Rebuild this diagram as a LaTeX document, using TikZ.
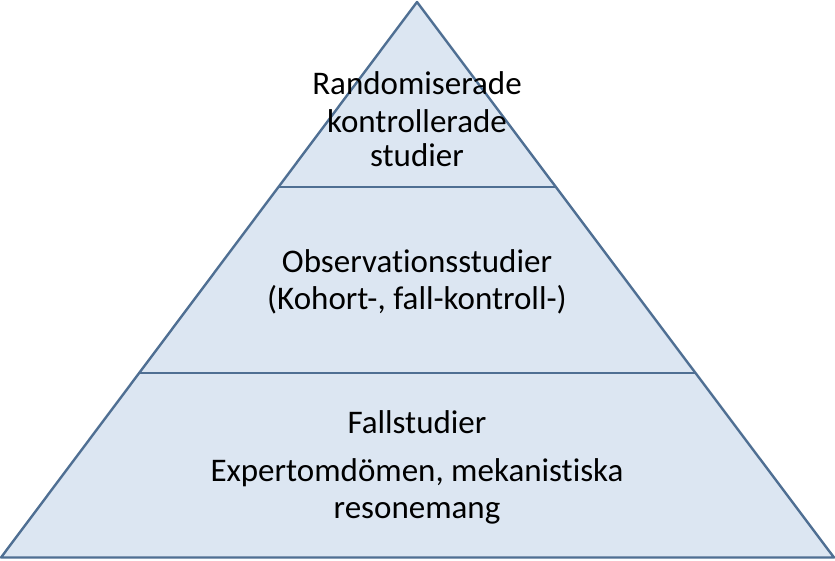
\documentclass[tikz,border=0pt]{standalone}
\usepackage{fontspec}
\setmainfont[Ligatures=NoCommon]{Carlito}
\definecolor{pyrfill}{HTML}{DCE6F2}
\definecolor{pyrline}{HTML}{4F6F93}
\begin{document}
\begin{tikzpicture}[x=1pt,y=-1pt,
  lbl/.style={font=\fontsize{33}{37}\selectfont, align=center, inner sep=0pt, text=black},
  edge/.style={draw=pyrline, line width=2.4pt, line join=round}]
\useasboundingbox (0,0) rectangle (835,560);
\coordinate (apex) at (417,2);
\coordinate (bl) at (1,557.5);
\coordinate (br) at (834,557.5);
\coordinate (l1) at (278.5,187);
\coordinate (r1) at (556,187);
\coordinate (l2) at (139.5,373);
\coordinate (r2) at (695,373);
\fill[pyrfill] (apex) -- (bl) -- (br) -- cycle;
\draw[edge] (l1) -- (r1);
\draw[edge] (l2) -- (r2);
\draw[edge] (apex) -- (bl) -- (br) -- cycle;
\node[lbl] (t1) at (417,119) {Randomiserade\\[1pt]kontrollerade\\[-3pt]studier};
\node[lbl] (t2) at (417,282) {Observationsstudier\\(Kohort-, fall-kontroll-)};
\node[lbl] (t3) at (417,422) {Fallstudier};
\node[lbl] (t4) at (417,491) {Expertomdömen, mekanistiska\\resonemang};
\end{tikzpicture}
\end{document}
